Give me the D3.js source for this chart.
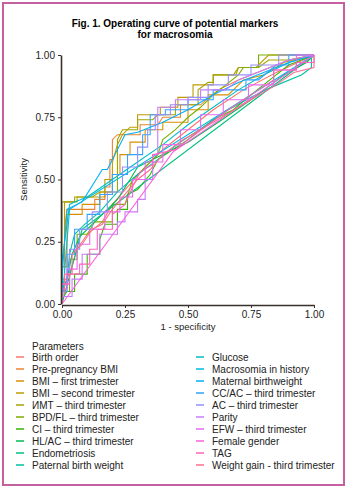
<!DOCTYPE html>
<html>
<head>
<meta charset="utf-8">
<script src="https://cdn.jsdelivr.net/npm/d3@7"></script>
<style>
  html, body { margin: 0; padding: 0; background: #fff; overflow: hidden; }
  svg { display: block; font-family: "Liberation Sans", Arial, sans-serif; }
</style>
</head>
<body>
<div id="chart"></div>
<script>
// series names, legend order
const names = [
  "Birth order", "Pre-pregnancy BMI", "BMI – first trimester", "BMI – second trimester",
  "ИМТ – third trimester", "BPD/FL – third trimester", "CI – third trimester",
  "HL/AC – third trimester", "Endometriosis", "Paternal birth weight",
  "Glucose", "Macrosomia in history", "Maternal birthweight", "CC/AC – third trimester",
  "AC – third trimester", "Parity", "EFW – third trimester", "Female gender", "TAG",
  "Weight gain - third trimester"
];

const colors = [
  "#F8766D", "#EA8331", "#D89000", "#C09B00", "#A3A500", "#7CAE00", "#39B600",
  "#00BB4E", "#00BF7D", "#00C1A3", "#00BFC4", "#00BAE0", "#00B0F6", "#35A2FF",
  "#9590FF", "#C77CFF", "#E76BF3", "#FA62DB", "#FF62BC", "#FF6C91"
];

const ticks = [0, 0.25, 0.5, 0.75, 1];

// [1 - specificity, sensitivity]
const birthOrder = [[0,0],[0,0.08],[0.03,0.12],[0.06,0.22],[0.1,0.28],[0.16,0.33],[0.2,0.4],[0.26,0.47],[0.33,0.55],[0.4,0.62],[0.5,0.7],[0.6,0.78],[0.72,0.86],[0.85,0.93],[1,1]];
const prePregBmi = [[0,0],[0,0.1],[0.01,0.1],[0.01,0.3],[0.02,0.38],[0.13,0.38],[0.13,0.42],[0.17,0.42],[0.17,0.47],[0.19,0.47],[0.19,0.58],[0.2,0.58],[0.2,0.66],[0.22,0.68],[0.31,0.68],[0.31,0.72],[0.38,0.72],[0.4,0.75],[0.47,0.75],[0.47,0.8],[0.55,0.8],[0.62,0.86],[0.7,0.9],[0.8,0.94],[0.9,0.98],[1,1]];
const bmi1 = [[0,0],[0,0.15],[0.02,0.15],[0.02,0.36],[0.08,0.36],[0.08,0.4],[0.15,0.4],[0.15,0.45],[0.2,0.45],[0.2,0.52],[0.23,0.52],[0.23,0.6],[0.27,0.6],[0.27,0.65],[0.33,0.65],[0.33,0.7],[0.4,0.7],[0.4,0.73],[0.5,0.73],[0.5,0.78],[0.58,0.78],[0.58,0.84],[0.66,0.84],[0.72,0.9],[0.8,0.92],[0.88,0.97],[1,1]];
const bmi2 = [[0,0],[0,0.2],[0.01,0.2],[0.01,0.41],[0.06,0.41],[0.06,0.43],[0.17,0.43],[0.17,0.5],[0.2,0.5],[0.2,0.57],[0.22,0.64],[0.24,0.68],[0.27,0.71],[0.3,0.71],[0.3,0.76],[0.39,0.76],[0.39,0.79],[0.46,0.79],[0.46,0.83],[0.52,0.83],[0.52,0.88],[0.6,0.88],[0.6,0.92],[0.68,0.92],[0.7,0.95],[0.77,0.95],[0.82,1],[1,1]];
const bmi3 = [[0,0],[0,0.41],[0.05,0.41],[0.05,0.43],[0.12,0.43],[0.15,0.45],[0.22,0.45],[0.22,0.66],[0.24,0.7],[0.3,0.7],[0.3,0.74],[0.36,0.74],[0.38,0.76],[0.45,0.76],[0.45,0.8],[0.54,0.8],[0.54,0.86],[0.58,0.89],[0.6,0.89],[0.6,0.92],[0.69,0.92],[0.7,0.95],[0.78,0.95],[0.82,0.98],[0.9,0.98],[1,1]];
const bpdFl = [[0,0],[0,0.05],[0.03,0.05],[0.03,0.18],[0.06,0.18],[0.06,0.28],[0.1,0.28],[0.13,0.33],[0.2,0.33],[0.2,0.4],[0.25,0.4],[0.28,0.5],[0.33,0.55],[0.38,0.6],[0.4,0.66],[0.45,0.7],[0.5,0.75],[0.55,0.79],[0.6,0.84],[0.65,0.88],[0.7,0.92],[0.72,0.95],[0.78,0.95],[0.78,1],[1,1]];
const ci = [[0,0],[0,0.02],[0.02,0.05],[0.05,0.05],[0.05,0.12],[0.1,0.12],[0.1,0.2],[0.15,0.2],[0.15,0.26],[0.17,0.32],[0.22,0.32],[0.22,0.38],[0.26,0.38],[0.26,0.44],[0.3,0.46],[0.35,0.52],[0.38,0.58],[0.44,0.62],[0.5,0.66],[0.55,0.7],[0.6,0.74],[0.68,0.78],[0.75,0.84],[0.8,0.88],[0.85,0.92],[0.9,0.96],[1,1]];
const hlAc = [[0,0],[0,0.05],[0.02,0.1],[0.04,0.2],[0.07,0.27],[0.12,0.32],[0.18,0.38],[0.22,0.42],[0.27,0.5],[0.3,0.55],[0.4,0.6],[0.5,0.65],[0.62,0.73],[0.75,0.82],[0.88,0.92],[0.97,0.97],[1,1]];
const endometriosis = [[0,0],[0.08,0.3],[1,1]];
const paternalBw = [[0,0],[0,0.04],[0.02,0.1],[0.03,0.2],[0.05,0.28],[0.09,0.32],[0.15,0.37],[0.22,0.45],[0.3,0.52],[0.38,0.58],[0.47,0.65],[0.56,0.71],[0.66,0.78],[0.75,0.83],[0.83,0.87],[0.95,0.92],[0.99,0.95],[0.99,0.99],[1,1]];
const glucose = [[0,0],[0,0.17],[0.03,0.4],[0.05,0.41],[0.1,0.43],[0.2,0.5],[0.3,0.57],[0.4,0.64],[0.5,0.72],[0.6,0.79],[0.7,0.86],[0.8,0.92],[0.9,0.97],[1,1]];
const macroHistory = [[0,0],[0.03,0.38],[1,1]];
const maternalBw = [[0,0],[0,0.1],[0.01,0.25],[0.02,0.38],[0.08,0.41],[0.16,0.54],[0.18,0.54],[0.25,0.68],[0.3,0.69],[0.4,0.73],[0.5,0.78],[0.6,0.84],[0.7,0.89],[0.8,0.93],[0.9,0.97],[1,1]];
const ccAc = [[0,0],[0,0.05],[0.02,0.05],[0.02,0.2],[0.05,0.2],[0.05,0.3],[0.1,0.3],[0.1,0.36],[0.15,0.36],[0.15,0.44],[0.2,0.44],[0.2,0.52],[0.26,0.52],[0.26,0.6],[0.32,0.6],[0.32,0.68],[0.35,0.68],[0.35,0.76],[0.41,0.76],[0.41,0.78],[0.5,0.78],[0.5,0.82],[0.6,0.82],[0.6,0.86],[0.73,0.86],[0.73,0.9],[0.78,0.9],[0.85,0.96],[0.9,0.96],[0.9,1],[1,1]];
const ac = [[0,0],[0,0.08],[0.03,0.08],[0.03,0.22],[0.07,0.22],[0.07,0.3],[0.12,0.3],[0.12,0.37],[0.18,0.37],[0.18,0.45],[0.24,0.45],[0.24,0.55],[0.3,0.55],[0.3,0.63],[0.34,0.63],[0.34,0.7],[0.37,0.7],[0.37,0.76],[0.43,0.76],[0.43,0.8],[0.5,0.8],[0.5,0.83],[0.58,0.83],[0.58,0.88],[0.66,0.88],[0.66,0.92],[0.75,0.92],[0.75,0.96],[0.86,0.96],[0.86,1],[1,1]];
const parity = [[0,0],[0,0.03],[0.04,0.03],[0.04,0.1],[0.08,0.1],[0.08,0.2],[0.15,0.2],[0.15,0.28],[0.22,0.28],[0.22,0.33],[0.25,0.33],[0.25,0.37],[0.3,0.37],[0.3,0.42],[0.33,0.42],[0.33,0.5],[0.36,0.5],[0.36,0.6],[0.38,0.6],[0.38,0.79],[0.45,0.79],[0.45,0.82],[0.55,0.82],[0.55,0.86],[0.65,0.86],[0.7,0.9],[0.8,0.94],[0.9,0.98],[1,1]];
const efw = [[0,0],[0,0.06],[0.02,0.06],[0.02,0.14],[0.06,0.14],[0.06,0.24],[0.11,0.24],[0.11,0.3],[0.17,0.3],[0.17,0.37],[0.23,0.37],[0.23,0.43],[0.28,0.43],[0.28,0.5],[0.33,0.5],[0.33,0.57],[0.4,0.57],[0.4,0.64],[0.47,0.64],[0.47,0.7],[0.55,0.7],[0.55,0.76],[0.64,0.76],[0.64,0.82],[0.74,0.82],[0.74,0.88],[0.84,0.88],[0.84,0.94],[0.93,0.94],[0.93,1],[1,1]];
const femaleGender = [[0,0],[0.44,0.61],[1,1]];
const tag = [[0,0],[0,0.08],[0.03,0.08],[0.03,0.12],[0.07,0.12],[0.07,0.16],[0.11,0.16],[0.11,0.22],[0.14,0.22],[0.14,0.3],[0.2,0.3],[0.2,0.36],[0.25,0.4],[0.28,0.47],[0.31,0.53],[0.36,0.56],[0.36,0.6],[0.45,0.62],[0.5,0.66],[0.58,0.72],[0.66,0.78],[0.75,0.84],[0.84,0.9],[0.84,0.94],[0.93,0.94],[0.93,0.97],[1,0.97],[1,1]];
const weightGain = [[0,0],[0,0.04],[0.01,0.04],[0.01,0.12],[0.04,0.12],[0.04,0.2],[0.08,0.24],[0.12,0.3],[0.16,0.32],[0.2,0.38],[0.25,0.44],[0.3,0.5],[0.35,0.54],[0.4,0.6],[0.48,0.66],[0.55,0.7],[0.65,0.76],[0.75,0.82],[0.85,0.88],[0.92,0.93],[1,0.95],[1,1]];

const curves = [birthOrder, prePregBmi, bmi1, bmi2, bmi3, bpdFl, ci, hlAc, endometriosis,
  paternalBw, glucose, macroHistory, maternalBw, ccAc, ac, parity, efw, femaleGender, tag, weightGain];

const width = 350, height = 490;
const margin = { top: 55, right: 36, bottom: 186, left: 62 };
const innerWidth = width - margin.left - margin.right,
      innerHeight = height - margin.top - margin.bottom;

const svg = d3.select("#chart").append("svg")
    .attr("width", width)
    .attr("height", height);

// frame
svg.append("rect")
    .attr("x", 3).attr("y", 3)
    .attr("width", 341).attr("height", 482)
    .attr("fill", "none")
    .attr("stroke", "#c5619f")
    .attr("stroke-width", 2);

// title
svg.append("text")
    .attr("x", 175).attr("y", 27)
    .attr("text-anchor", "middle")
    .style("font-weight", "bold")
    .style("font-size", "10px")
    .text("Fig. 1. Operating curve of potential markers");
svg.append("text")
    .attr("x", 175).attr("y", 38)
    .attr("text-anchor", "middle")
    .style("font-weight", "bold")
    .style("font-size", "10px")
    .text("for macrosomia");

const g = svg.append("g")
    .attr("transform", "translate(" + margin.left + "," + margin.top + ")");

const xScale = d3.scaleLinear().domain([0, 1]).range([0, innerWidth]);
const yScale = d3.scaleLinear().domain([0, 1]).range([innerHeight, 0]);

const line = d3.line()
    .x(d => xScale(d[0]))
    .y(d => yScale(d[1]));

curves.forEach(function(c, i) {
    g.append("path")
        .attr("fill", "none")
        .attr("stroke", colors[i])
        .attr("stroke-width", 1.1)
        .attr("d", line(c));
});

// axes
const xAxis = g.append("g")
    .attr("transform", "translate(0," + (innerHeight + 1) + ")")
    .call(d3.axisBottom(xScale).tickValues(ticks).tickFormat(d3.format(".2f")).tickSize(3).tickSizeOuter(0));
const yAxis = g.append("g")
    .attr("transform", "translate(-1,0)")
    .call(d3.axisLeft(yScale).tickValues(ticks).tickFormat(d3.format(".2f")).tickSize(3).tickSizeOuter(0));

[xAxis, yAxis].forEach(function(a) {
    a.select(".domain").attr("stroke", "#3a3029").attr("stroke-width", 1.6);
    a.selectAll(".tick line").attr("stroke", "#3a3029").attr("stroke-width", 1);
    a.selectAll("text")
        .attr("fill", "#222")
        .style("font-size", "10px")
        .style("font-family", "'Liberation Sans', Arial, sans-serif");
});

g.append("text")
    .attr("transform", "translate(-35," + (innerHeight / 2) + ") rotate(-90)")
    .attr("text-anchor", "middle")
    .attr("fill", "#222")
    .style("font-size", "9.5px")
    .text("Sensitivity");

g.append("text")
    .attr("x", innerWidth / 2)
    .attr("y", innerHeight + 26)
    .attr("text-anchor", "middle")
    .attr("fill", "#222")
    .style("font-size", "9.5px")
    .text("1 - specificity");

// legend
const legend = svg.append("g");
legend.append("text")
    .attr("x", 32).attr("y", 350)
    .attr("fill", "#222")
    .style("font-size", "10px")
    .text("Parameters");

names.forEach(function(n, i) {
    const col = Math.floor(i / 10), row = i % 10;
    const row_g = legend.append("g")
        .attr("transform", "translate(" + (col === 0 ? 16 : 196) + "," + (357 + row * 12) + ")");
    row_g.append("line")
        .attr("x1", 0).attr("x2", 8)
        .attr("y1", 0).attr("y2", 0)
        .attr("stroke", colors[i])
        .attr("stroke-width", 1.5);
    row_g.append("text")
        .attr("x", 16).attr("y", 3.6)
        .attr("fill", "#222")
        .style("font-size", "10px")
        .text(n);
});
</script>
</body>
</html>
